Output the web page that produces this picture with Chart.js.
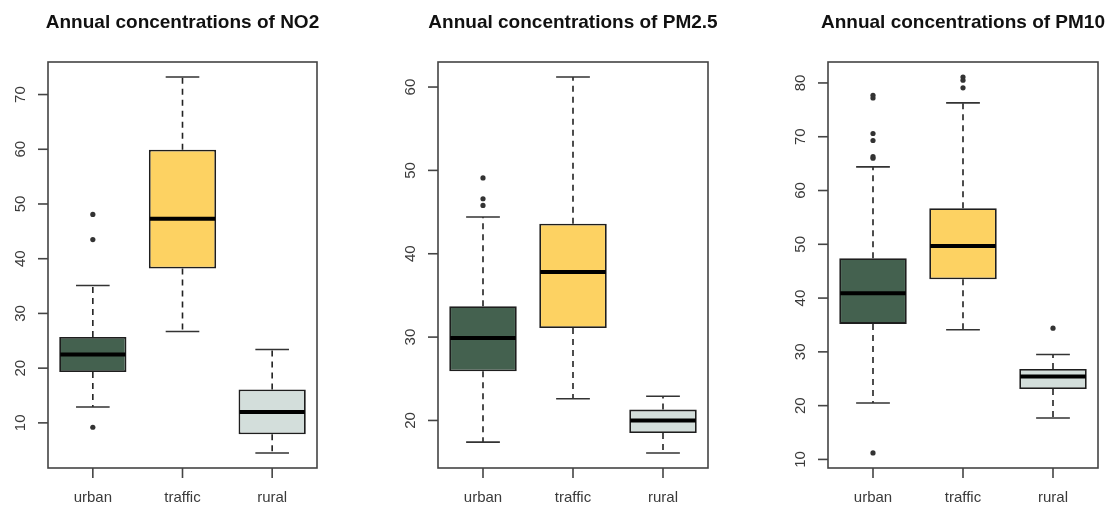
<!DOCTYPE html>
<html>
<head>
<meta charset="utf-8">
<script src="https://cdn.jsdelivr.net/npm/chart.js@4.4.0/dist/chart.umd.min.js"></script>
<style>
  html, body { margin: 0; padding: 0; background: #fff; }
  #wrap { position: relative; width: 1110px; height: 506px; }
  .panel { position: absolute; top: 0; width: 370px; height: 506px; }
</style>
</head>
<body>
<div id="wrap">
  <div class="panel" style="left:0px"><canvas id="chartNO2"></canvas></div>
  <div class="panel" style="left:370px"><canvas id="chartPM25"></canvas></div>
  <div class="panel" style="left:740px"><canvas id="chartPM10"></canvas></div>
</div>
<script>
// station types (x categories)
const categories = ["urban", "traffic", "rural"];
const boxColors = ["#44614f", "#fdd262", "#d3dedb"];

// NO2 - whisker ends, quartiles, median, outliers
const no2Lower = [12.9, 26.7, 4.5];
const no2Q1 = [19.3, 38.2, 7.9];
const no2Median = [22.5, 47.3, 12.0];
const no2Q3 = [25.7, 59.9, 16.1];
const no2Upper = [35.1, 73.2, 23.4];
const no2Outliers = [[48.1, 43.5, 9.2], [], []];
const no2Ticks = [10, 20, 30, 40, 50, 60, 70];

// PM2.5
const pm25Lower = [17.4, 22.6, 16.1];
const pm25Q1 = [25.9, 31.1, 18.5];
const pm25Median = [29.9, 37.8, 20.0];
const pm25Q3 = [33.7, 43.6, 21.3];
const pm25Upper = [44.4, 61.2, 22.9];
const pm25Outliers = [[49.1, 46.6, 45.8], [], []];
const pm25Ticks = [20, 30, 40, 50, 60];

// PM10
const pm10Lower = [20.5, 34.1, 17.7];
const pm10Q1 = [35.2, 43.5, 23.1];
const pm10Median = [40.9, 49.7, 25.4];
const pm10Q3 = [47.4, 56.7, 26.8];
const pm10Upper = [64.4, 76.3, 29.5];
const pm10Outliers = [[77.7, 77.2, 70.6, 69.3, 66.3, 66.0, 11.2], [81.1, 80.5, 79.1], [34.4]];
const pm10Ticks = [10, 20, 30, 40, 50, 60, 70, 80];

// draws whiskers, caps, medians, frame, axes and the title (R base graphics look)
const boxplotParts = {
  id: "boxplotParts",
  afterDatasetsDraw(chart, args, opts) {
    const { ctx, chartArea: a, scales: { x, y } } = chart;
    const meta = chart.getDatasetMeta(0);
    ctx.save();
    for (let i = 0; i < categories.length; i++) {
      const bar = meta.data[i];
      const cx = bar.x;
      const half = bar.width / 2;
      const pLo = y.getPixelForValue(opts.lower[i]);
      const pQ1 = y.getPixelForValue(opts.q1[i]);
      const pQ3 = y.getPixelForValue(opts.q3[i]);
      const pHi = y.getPixelForValue(opts.upper[i]);
      const pMed = y.getPixelForValue(opts.median[i]);

      // dashed whiskers
      ctx.strokeStyle = "#222";
      ctx.lineWidth = 1.6;
      ctx.setLineDash([6, 5]);
      ctx.beginPath();
      ctx.moveTo(cx, pQ3); ctx.lineTo(cx, pHi);
      ctx.moveTo(cx, pQ1); ctx.lineTo(cx, pLo);
      ctx.stroke();
      ctx.setLineDash([]);

      // staples
      ctx.strokeStyle = "#333";
      ctx.beginPath();
      ctx.moveTo(cx - half / 2, pHi); ctx.lineTo(cx + half / 2, pHi);
      ctx.moveTo(cx - half / 2, pLo); ctx.lineTo(cx + half / 2, pLo);
      ctx.stroke();

      // median
      ctx.strokeStyle = "#000";
      ctx.lineWidth = 4;
      ctx.beginPath();
      ctx.moveTo(cx - half + 1, pMed); ctx.lineTo(cx + half - 1, pMed);
      ctx.stroke();
    }

    // frame
    ctx.strokeStyle = "#444";
    ctx.lineWidth = 1.6;
    ctx.strokeRect(a.left, a.top, a.right - a.left, a.bottom - a.top);

    // y axis ticks and rotated labels
    ctx.fillStyle = "#3a3a3a";
    ctx.font = "15px 'Liberation Sans', Arial, sans-serif";
    ctx.textAlign = "center";
    ctx.textBaseline = "middle";
    opts.ticks.forEach((v) => {
      const py = y.getPixelForValue(v);
      ctx.beginPath();
      ctx.moveTo(a.left - 10, py); ctx.lineTo(a.left, py);
      ctx.stroke();
      ctx.save();
      ctx.translate(a.left - 27, py);
      ctx.rotate(-Math.PI / 2);
      ctx.fillText(String(v), 0, 0);
      ctx.restore();
    });

    // x axis ticks and labels
    categories.forEach((c, i) => {
      const px = x.getPixelForValue(i);
      ctx.beginPath();
      ctx.moveTo(px, a.bottom); ctx.lineTo(px, a.bottom + 10);
      ctx.stroke();
      ctx.fillText(c, px, a.bottom + 30);
    });

    // title centred on the plot region
    ctx.fillStyle = "#111";
    ctx.font = "bold 19px 'Liberation Sans', Arial, sans-serif";
    ctx.fillText(opts.title, (a.left + a.right) / 2, 23);
    ctx.restore();
  },
};

function makeBoxChart(canvasId, title, lower, q1, median, q3, upper, outliers, ticks, padLeft, padRight) {
  const all = lower.concat(upper, ...outliers);
  const lo = Math.min(...all);
  const hi = Math.max(...all);
  const ext = (hi - lo) * 0.04;

  const outlierPoints = [];
  outliers.forEach((vals, i) => {
    vals.forEach((v) => outlierPoints.push({ x: categories[i], y: v }));
  });

  return new Chart(document.getElementById(canvasId), {
    type: "bar",
    data: {
      labels: categories,
      datasets: [
        {
          label: "box",
          data: q1.map((v, i) => [v, q3[i]]),
          backgroundColor: boxColors,
          borderColor: "#1e1e1e",
          borderWidth: 1.8,
          borderSkipped: false,
          categoryPercentage: 1,
          barPercentage: 0.75,
          order: 2,
        },
        {
          type: "line",
          label: "outliers",
          data: outlierPoints,
          showLine: false,
          pointRadius: 2.6,
          pointBackgroundColor: "#333",
          pointBorderWidth: 0,
          order: 1,
        },
      ],
    },
    options: {
      responsive: true,
      maintainAspectRatio: false,
      animation: false,
      layout: { padding: { left: padLeft, right: padRight, top: 62, bottom: 38 } },
      scales: {
        x: { display: false, offset: true },
        y: { display: false, min: lo - ext, max: hi + ext },
      },
      plugins: {
        legend: { display: false },
        tooltip: { enabled: false },
        boxplotParts: { title, lower, q1, median, q3, upper, ticks },
      },
    },
    plugins: [boxplotParts],
  });
}

makeBoxChart("chartNO2", "Annual concentrations of NO2",
  no2Lower, no2Q1, no2Median, no2Q3, no2Upper, no2Outliers, no2Ticks, 48, 53);
makeBoxChart("chartPM25", "Annual concentrations of PM2.5",
  pm25Lower, pm25Q1, pm25Median, pm25Q3, pm25Upper, pm25Outliers, pm25Ticks, 68, 32);
makeBoxChart("chartPM10", "Annual concentrations of PM10",
  pm10Lower, pm10Q1, pm10Median, pm10Q3, pm10Upper, pm10Outliers, pm10Ticks, 88, 12);
</script>
</body>
</html>
